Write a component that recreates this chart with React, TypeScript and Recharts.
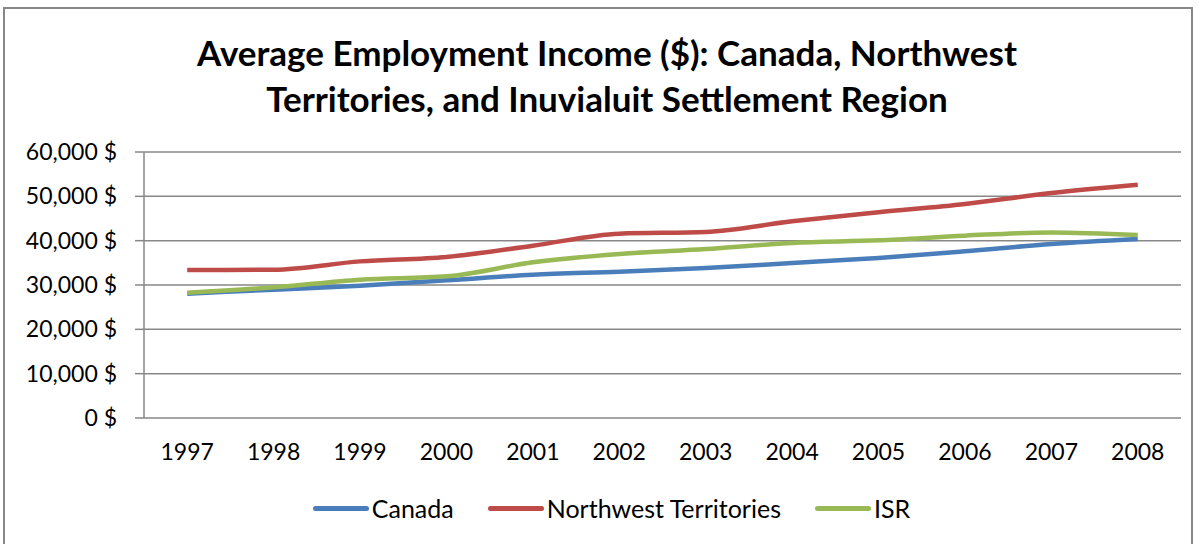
import React from 'react';
import { LineChart, Line, XAxis, YAxis, CartesianGrid, Legend } from 'recharts';

const years = ['1997', '1998', '1999', '2000', '2001', '2002', '2003', '2004', '2005', '2006', '2007', '2008'];
const canada = [28040, 28940, 29850, 31050, 32330, 33000, 33840, 34970, 36100, 37590, 39250, 40380];
const nwt = [33390, 33450, 35330, 36320, 38870, 41580, 41960, 44360, 46390, 48280, 50760, 52630];
const isr = [28270, 29470, 31200, 31950, 35110, 37000, 38120, 39480, 40070, 41130, 41870, 41280];
const yTicks = [0, 10000, 20000, 30000, 40000, 50000, 60000];

const series = [
  { key: 'canada', name: 'Canada', color: '#4A7EBB' },
  { key: 'nwt', name: 'Northwest Territories', color: '#BE4B48' },
  { key: 'isr', name: 'ISR', color: '#98B954' },
];

const data = years.map((year, i) => ({ idx: i, year, canada: canada[i], nwt: nwt[i], isr: isr[i] }));
const labelTicks = years.map((_, i) => i);
const boundaryTicks = years.map((_, i) => i - 0.5).concat(years.length - 0.5);

const FONT = 'Lato, "Open Sans", sans-serif';
const GRID = '#878787';

const fmtMoney = (v: number) => `${v.toLocaleString('en-US')} $`;

// legend drawn in series order (recharts sorts payload by default)
const LegendContent = () => (
  <div style={{ display: 'flex', justifyContent: 'center', alignItems: 'center', height: 40, paddingLeft: 42, fontFamily: FONT, fontSize: 25, color: '#000' }}>
    {series.map((s, i) => (
      <div key={s.key} style={{ display: 'flex', alignItems: 'center', marginLeft: i === 0 ? 0 : 34 }}>
        <span style={{ display: 'inline-block', width: 56, height: 5, borderRadius: 3, background: s.color, marginRight: 3 }} />
        <span>{s.name}</span>
      </div>
    ))}
  </div>
);

export default function App() {
  return (
    <div style={{ position: 'absolute', left: 0, top: 0, width: 1199, height: 544, background: '#fff', overflow: 'hidden' }}>
      <div style={{ position: 'absolute', left: 3, top: 7, width: 1186, height: 560, border: `2px solid ${GRID}` }} />
      <div style={{ position: 'absolute', left: 107, top: 29, width: 1000, textAlign: 'center', fontFamily: FONT, fontWeight: 700, fontSize: 35, lineHeight: '46px', color: '#000' }}>
        Average Employment Income ($): Canada, Northwest
        <br />
        Territories, and Inuvialuit Settlement Region
      </div>
      <div style={{ position: 'absolute', left: 0, top: 0 }}>
        <LineChart width={1199} height={544} data={data} margin={{ top: 152, right: 18, left: 0, bottom: 16 }}>
          <CartesianGrid vertical={false} stroke={GRID} strokeWidth={1.5} />
          <XAxis
            xAxisId="b"
            type="number"
            dataKey="idx"
            domain={[-0.5, 11.5]}
            ticks={boundaryTicks}
            interval={0}
            height={0}
            tick={false}
            tickSize={8}
            tickLine={{ stroke: GRID, strokeWidth: 1.5 }}
            axisLine={{ stroke: GRID, strokeWidth: 1.5 }}
          />
          <XAxis
            type="number"
            dataKey="idx"
            domain={[-0.5, 11.5]}
            ticks={labelTicks}
            interval={0}
            height={70}
            tickLine={false}
            tickSize={0}
            tickMargin={26}
            tickFormatter={(i: number) => years[i]}
            axisLine={false}
            tick={{ fill: '#000', fontSize: 23, fontFamily: FONT }}
          />
          <YAxis
            width={144}
            domain={[0, 60000]}
            ticks={yTicks}
            interval={0}
            tickSize={9}
            tickMargin={18}
            tickFormatter={fmtMoney}
            tickLine={{ stroke: GRID, strokeWidth: 1.5 }}
            axisLine={{ stroke: GRID, strokeWidth: 1.5 }}
            tick={{ fill: '#000', fontSize: 23, fontFamily: FONT }}
          />
          <Legend verticalAlign="bottom" content={<LegendContent />} />
          {series.map((s) => (
            <Line key={s.key} type="monotone" dataKey={s.key} name={s.name} stroke={s.color} strokeWidth={4.5} dot={false} isAnimationActive={false} />
          ))}
        </LineChart>
      </div>
    </div>
  );
}
